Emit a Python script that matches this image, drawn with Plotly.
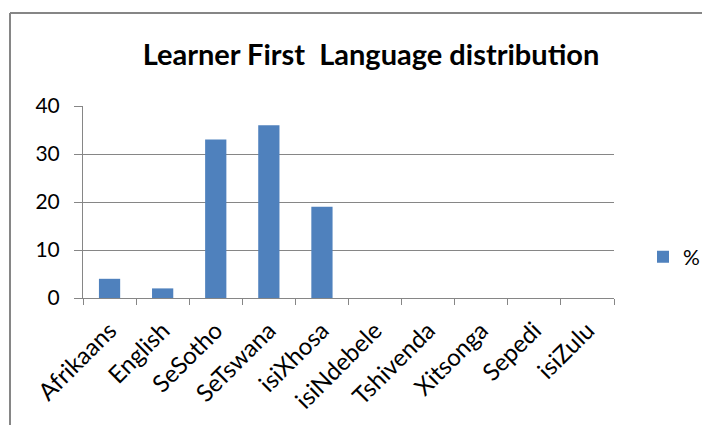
import plotly.graph_objects as go

languages = ['Afrikaans', 'English', 'SeSotho', 'SeTswana', 'isiXhosa',
             'isiNdebele', 'Tshivenda', 'Xitsonga', 'Sepedi', 'isiZulu']
percent = [4, 2, 33, 36, 19, 0, 0, 0, 0, 0]
y_ticks = [0, 10, 20, 30, 40]

font = 'Lato, Open Sans, sans-serif'

# the page adds an 8px body margin, so positions are shifted by -8
L, T, W, H = 75, 98, 531, 192
B = T + H


def px(x):
    return (x - 8 - L) / W


def py(y):
    return (B - (y - 8)) / H


fig = go.Figure(go.Bar(x=languages, y=percent, name='%', marker_color='#4F81BD',
                       marker_line_width=0, showlegend=True))

fig.update_layout(
    width=710, height=425,
    margin=dict(l=L, r=710 - L - W, t=T, b=425 - B),
    paper_bgcolor='white', plot_bgcolor='white',
    bargap=0.6,
    font=dict(family=font, size=21, color='black'),
    title=dict(text='<b>Learner First  Language distribution</b>', x=(371 - 8) / 710, xanchor='center',
               y=1 - (55 - 8) / 425, yanchor='middle', font=dict(size=29)),
    legend=dict(x=px(643), xanchor='left', y=py(257), yanchor='middle',
                font=dict(size=21), itemwidth=30),
    xaxis=dict(showline=True, linecolor='#868686', linewidth=1, ticks='outside',
               ticklen=6, tickcolor='#868686', tickangle=-45, tickson='boundaries',
               showgrid=False, automargin=False, tickfont=dict(size=24),
               ticklabelstandoff=8),
    yaxis=dict(range=[0, 40], tickvals=y_ticks, showline=True, linecolor='#868686',
               ticks='outside', ticklen=8, tickcolor='#868686', gridcolor='#868686',
               gridwidth=1, zeroline=False, ticklabelstandoff=10, automargin=False),
    shapes=[
        dict(type='line', xref='paper', yref='paper', x0=px(10), x1=px(10),
             y0=py(13), y1=py(440), line=dict(color='#868686', width=2)),
        dict(type='line', xref='paper', yref='paper', x0=px(10), x1=px(730),
             y0=py(13), y1=py(13), line=dict(color='#868686', width=2)),
    ],
)

fig.write_html('out.html')
